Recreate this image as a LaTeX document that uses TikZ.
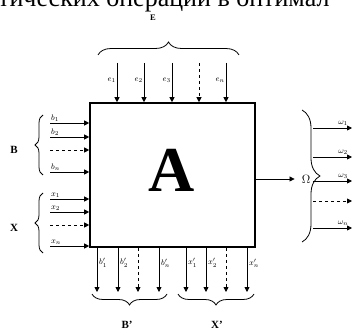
\documentclass[tikz,border=0pt]{standalone}
\usepackage{fontspec}
\setmainfont{Liberation Serif}
\usetikzlibrary{arrows.meta,positioning,decorations.pathreplacing,calc}

\begin{document}
\begin{tikzpicture}[x=1pt, y=1pt,
    inarr/.style={-{Triangle[length=5pt,width=5pt]}, line width=0.8pt},
    dasharr/.style={inarr, dashed},
    brc/.style={decorate, decoration={brace, amplitude=#1}, line width=0.8pt},
    lbl/.style={font=\fontsize{8.5}{9}\selectfont, inner sep=1pt},
    grp/.style={font=\fontsize{11}{12}\selectfont\bfseries, inner sep=0pt}
  ]
  \useasboundingbox (0,0) rectangle (353,332);
  % cut-off line of the page above the figure
  \begin{scope}
    \clip (0,0) rectangle (353,332);
    \node[anchor=base west, font=\fontsize{26}{28}\selectfont, inner sep=0pt] (pagetxt)
      at (-2,325) {тических операций в оптимал};
  \end{scope}

  % the system
  \node[draw, line width=1.6pt, minimum width=165pt, minimum height=144pt, inner sep=0pt] (box) at (172.5,157) {};
  \node[font=\fontsize{64}{64}\selectfont\bfseries] (A) at (172,162) {A};

  % E inputs
  \foreach \x/\n/\t in {117/1/$e_1$, 144/2/$e_2$, 172/3/$e_3$, 226/5/$e_n$} {
    \coordinate (e\n) at (\x,269);
    \draw[inarr] (e\n) -- (e\n |- box.north);
    \node[lbl, anchor=east] at ($(e\n)+(0,-17)$) {\t};
  }
  \coordinate (e4) at (199,269);
  \draw[dasharr] (e4) -- (e4 |- box.north);
  \draw[brc=13] (98,277) -- (239,277);
  \node[grp, font=\fontsize{8.5}{9}\selectfont\bfseries] (E) at (153,314.5) {E};

  % B inputs
  \foreach \y/\n/\t in {209/1/$b_1$, 195/2/$b_2$, 160/4/$b_n$} {
    \coordinate (b\n) at (50,\y);
    \draw[inarr] (b\n) -- (b\n -| box.west);
    \node[lbl, anchor=south west] at (b\n) {\t};
  }
  \coordinate (b3) at (50,182);
  \draw[dasharr] (b3) -- (b3 -| box.west);
  \draw[brc=8] (43,157) -- (43,217);
  \node[grp] (B) at (14,182) {B};

  % X inputs
  \foreach \y/\n/\t in {133/1/$x_1$, 120/2/$x_2$, 86/4/$x_n$} {
    \coordinate (x\n) at (50,\y);
    \draw[inarr] (x\n) -- (x\n -| box.west);
    \node[lbl, anchor=south west] at (x\n) {\t};
  }
  \coordinate (x3) at (50,107);
  \draw[dasharr] (x3) -- (x3 -| box.west);
  \draw[brc=8] (43,79) -- (43,139);
  \node[grp] (X) at (14,104) {X};

  % B' outputs
  \foreach \x/\n/\t in {97/1/$b'_1$, 118/2/$b'_2$, 159/4/$b'_n$} {
    \coordinate (bo\n) at (\x,40);
    \draw[inarr] (bo\n |- box.south) -- (bo\n);
    \node[lbl, anchor=west] at ($(bo\n)+(1,29)$) {\t};
  }
  \coordinate (bo3) at (138,40);
  \draw[dasharr] (bo3 |- box.south) -- (bo3);
  \draw[brc=11] (167,38) -- (92,38);
  \node[grp] (Bo) at (127,7) {B'};

  % X' outputs
  \foreach \x/\n/\t in {186/1/$x'_1$, 206/2/$x'_2$, 247/4/$x'_n$} {
    \coordinate (xo\n) at (\x,40);
    \draw[inarr] (xo\n |- box.south) -- (xo\n);
    \node[lbl, anchor=west] at ($(xo\n)+(1,29)$) {\t};
  }
  \coordinate (xo3) at (226,40);
  \draw[dasharr] (xo3 |- box.south) -- (xo3);
  \draw[brc=11] (254,38) -- (178,38);
  \node[grp] (Xo) at (217,7) {X'};

  % Omega outputs
  \node[font=\fontsize{13}{13}\selectfont, inner sep=0pt] (omega) at (306,153) {$\Omega$};
  \draw[inarr, shorten >=7pt] (box.east |- omega) -- (omega.west);
  \draw[brc=18] (302,222) -- (302,90);
  \foreach \y/\n/\t in {204/1/$\omega_1$, 175/2/$\omega_2$, 151/3/$\omega_3$, 104/5/$\omega_n$} {
    \coordinate (ws\n) at (313,\y);
    \coordinate (w\n) at (352,\y);
    \draw[inarr] (ws\n) -- (w\n);
    \node[lbl, anchor=south] at ($(w\n)+(-9,1)$) {\t};
  }
  \coordinate (ws4) at (313,131);
  \coordinate (w4) at (352,131);
  \draw[dasharr] (ws4) -- (w4);
\end{tikzpicture}
\end{document}
